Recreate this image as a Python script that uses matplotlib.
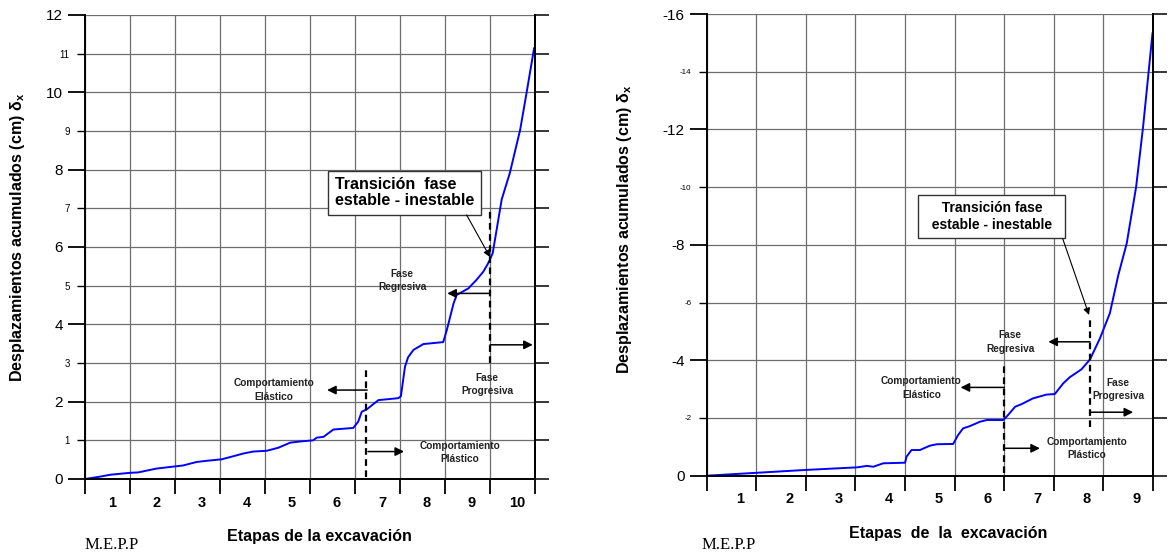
import numpy as np
from matplotlib import pyplot as plt
from matplotlib.ticker import NullFormatter

plt.rcParams['font.family'] = ['Liberation Sans', 'DejaVu Sans']
plt.rcParams['axes.unicode_minus'] = False
plt.rcParams['mathtext.fontset'] = 'custom'
plt.rcParams['mathtext.rm'] = 'Liberation Sans'
plt.rcParams['mathtext.it'] = 'Liberation Sans:italic'
plt.rcParams['mathtext.bf'] = 'Liberation Sans:bold'

# desplazamientos acumulados, grafico izquierdo (10 etapas)
etapa_izq = [0, 0.33, 0.56, 1.0, 1.18, 1.59, 1.96, 2.18, 2.48, 2.70, 3.04, 3.30, 3.52,
             3.74, 4.04, 4.30, 4.56, 4.78, 5.07, 5.15, 5.30, 5.52, 5.96, 6.07, 6.15,
             6.26, 6.52, 6.96, 7.02, 7.11, 7.18, 7.30, 7.52, 7.96, 8.04, 8.19, 8.26,
             8.52, 8.70, 8.85, 8.96, 9.06, 9.26, 9.44, 9.67, 9.81, 9.98]
despl_izq = [0, 0.06, 0.11, 0.16, 0.17, 0.27, 0.32, 0.35, 0.44, 0.47, 0.51, 0.59, 0.66,
             0.71, 0.73, 0.81, 0.94, 0.97, 1.00, 1.07, 1.09, 1.28, 1.32, 1.48, 1.74,
             1.80, 2.04, 2.09, 2.14, 2.90, 3.15, 3.34, 3.49, 3.54, 3.85, 4.54, 4.76,
             4.93, 5.15, 5.36, 5.58, 5.84, 7.23, 7.91, 9.03, 9.97, 11.14]

# desplazamientos acumulados, grafico derecho (9 etapas)
etapa_der = [0, 1.0, 2.0, 3.04, 3.23, 3.36, 3.56, 4.0, 4.03, 4.13, 4.30, 4.50, 4.64,
             4.97, 5.07, 5.17, 5.31, 5.51, 5.65, 5.98, 6.05, 6.22, 6.35, 6.58, 6.85,
             7.02, 7.19, 7.32, 7.56, 7.73, 7.93, 8.13, 8.30, 8.47, 8.66, 8.80, 8.99]
despl_der = [0, -0.10, -0.20, -0.29, -0.34, -0.31, -0.43, -0.45, -0.66, -0.89, -0.89,
             -1.04, -1.09, -1.10, -1.41, -1.64, -1.72, -1.87, -1.93, -1.93, -2.05,
             -2.39, -2.48, -2.68, -2.81, -2.83, -3.20, -3.41, -3.69, -4.03, -4.76,
             -5.63, -6.95, -8.05, -10.01, -12.09, -15.33]

# limites de fase: (etapa, desde, hasta)
limite_plastico_izq = (6.24, 0.05, 2.87)
limite_inestable_izq = (9.0, 3.0, 6.96)
limite_plastico_der = (6.0, -0.1, -3.84)
limite_inestable_der = (7.73, -1.70, -5.51)

ticks_y_izq = [0, 2, 4, 6, 8, 10, 12]
ticks_y_izq_menor = [1, 3, 5, 7, 9, 11]
ticks_y_der = [0, -4, -8, -12, -16]
ticks_y_der_menor = [-2, -6, -10, -14]

ylabel = r'Desplazamientos acumulados (cm) $\mathbf{\delta}_{\mathbf{x}}$'


def setup_axes(ax, n_etapas, ylim, mayores, menores, size_menor, label_off, xlabel):
    ax.set_xlim(0, n_etapas)
    ax.set_ylim(*ylim)

    # x: rayas en los limites de etapa, numeros en el centro
    ax.set_xticks(range(n_etapas + 1))
    ax.set_xticklabels([])
    ax.set_xticks(np.arange(n_etapas) + 0.5 + label_off,
                  [str(i + 1) for i in range(n_etapas)], minor=True)
    ax.tick_params(axis='x', which='major', direction='out', length=11, width=1.3)
    ax.tick_params(axis='x', which='minor', length=0, pad=12, labelsize=10.5)
    for lbl in ax.get_xticklabels(minor=True):
        lbl.set_fontweight('bold')

    # y: pares grandes, impares chicos
    ax.set_yticks(mayores, [str(v) for v in mayores])
    ax.set_yticks(menores, [str(v) for v in menores], minor=True)
    ax.tick_params(axis='y', which='major', length=12, width=1.3, labelsize=11, pad=4)
    ax.tick_params(axis='y', which='minor', length=6, width=1.0, labelsize=size_menor, pad=5)

    ax.xaxis.grid(True, which='major', color='#6e6e6e', lw=0.9)
    ax.yaxis.grid(True, which='both', color='#6e6e6e', lw=0.9)
    ax.set_axisbelow(True)

    ax.spines['top'].set_visible(False)
    for s in ['left', 'right', 'bottom']:
        ax.spines[s].set_linewidth(1.4)

    # rayas del lado derecho
    sec = ax.secondary_yaxis('right')
    sec.set_yticks(sorted(mayores + menores))
    sec.yaxis.set_major_formatter(NullFormatter())
    sec.tick_params(length=10, width=1.1)
    sec.spines['right'].set_linewidth(1.4)

    ax.set_ylabel(ylabel, fontsize=11.5, fontweight='bold')
    ax.set_xlabel(xlabel, fontsize=11.5, fontweight='bold')


def flecha(ax, x0, y0, x1, y1):
    ax.annotate('', xy=(x1, y1), xytext=(x0, y0),
                arrowprops=dict(arrowstyle='-|>', color='k', lw=1.1,
                                mutation_scale=13, shrinkA=0, shrinkB=0))


def texto(ax, x, y, s):
    ax.text(x, y, s, fontsize=7.3, fontweight='bold', ha='center', va='center',
            linespacing=1.4, color='#222222')


def limite(ax, lim):
    x, y0, y1 = lim
    ax.plot([x, x], [y0, y1], color='k', lw=1.6, ls=(0, (3, 2)))


fig = plt.figure(figsize=(11.7, 5.53), dpi=100)

# ---- grafico izquierdo ----
ax1 = fig.add_axes([85 / 1170, 74 / 553, 450 / 1170, 464 / 553])
setup_axes(ax1, 10, (0, 12), ticks_y_izq, ticks_y_izq_menor, 7, 0.1,
           'Etapas de la excavación')
ax1.yaxis.set_label_coords(-0.128, 0.52)
ax1.xaxis.set_label_coords(0.522, -0.107)
ax1.plot(etapa_izq, despl_izq, color='#0000ff', lw=1.4)

limite(ax1, limite_plastico_izq)
limite(ax1, limite_inestable_izq)
flecha(ax1, 6.27, 2.30, 5.38, 2.30)
texto(ax1, 4.19, 2.30, 'Comportamiento\nElástico')
flecha(ax1, 6.29, 0.71, 7.09, 0.71)
texto(ax1, 8.33, 0.69, 'Comportamiento\nPlástico')
flecha(ax1, 9.0, 4.80, 8.05, 4.80)
texto(ax1, 7.05, 5.13, 'Fase\nRegresiva')
flecha(ax1, 9.0, 3.47, 9.95, 3.47)
texto(ax1, 8.94, 2.44, 'Fase\nProgresiva')
ax1.text(7.1, 7.40, 'Transición  fase\nestable - inestable', fontsize=11.5,
         fontweight='bold', ha='center', va='center', multialignment='left',
         linespacing=1.1,
         bbox=dict(boxstyle='square,pad=0.4', fc='white', ec='#333333', lw=1.0))
ax1.annotate('', xy=(9.0, 5.74), xytext=(8.48, 6.83),
             arrowprops=dict(arrowstyle='-|>', color='k', lw=0.8,
                             mutation_scale=10, shrinkA=0, shrinkB=0))

# ---- grafico derecho ----
ax2 = fig.add_axes([706.7 / 1170, 77.3 / 553, 446.3 / 1170, 461.7 / 553])
setup_axes(ax2, 9, (0, -16), ticks_y_der, ticks_y_der_menor, 5.8, 0.17,
           'Etapas  de  la  excavación')
ax2.yaxis.set_label_coords(-0.162, 0.534)
ax2.xaxis.set_label_coords(0.541, -0.109)
ax2.plot(etapa_der, despl_der, color='#0000ff', lw=1.4)

limite(ax2, limite_plastico_der)
limite(ax2, limite_inestable_der)
flecha(ax2, 6.0, -3.06, 5.12, -3.06)
texto(ax2, 4.33, -3.04, 'Comportamiento\nElástico')
flecha(ax2, 6.0, -0.95, 6.72, -0.95)
texto(ax2, 7.67, -0.94, 'Comportamiento\nPlástico')
flecha(ax2, 7.73, -4.64, 6.89, -4.64)
texto(ax2, 6.12, -4.63, 'Fase\nRegresiva')
flecha(ax2, 7.73, -2.20, 8.6, -2.20)
texto(ax2, 8.30, -3.0, 'Fase\nProgresiva')
ax2.text(5.75, -8.98, '  Transición fase  \n  estable - inestable  ', fontsize=10,
         fontweight='bold', ha='center', va='center', linespacing=1.3,
         bbox=dict(boxstyle='square,pad=0.4', fc='white', ec='#333333', lw=1.0))
ax2.annotate('', xy=(7.71, -5.57), xytext=(7.18, -8.21),
             arrowprops=dict(arrowstyle='-|>', color='k', lw=0.8,
                             mutation_scale=10, shrinkA=0, shrinkB=0))

# firma
fig.text(85 / 1170, 8 / 553, 'M.E.P.P', family='Liberation Serif', fontsize=12,
         ha='left', va='center')
fig.text(701.7 / 1170, 8 / 553, 'M.E.P.P', family='Liberation Serif', fontsize=12,
         ha='left', va='center')

plt.savefig('out.png', dpi=100)
